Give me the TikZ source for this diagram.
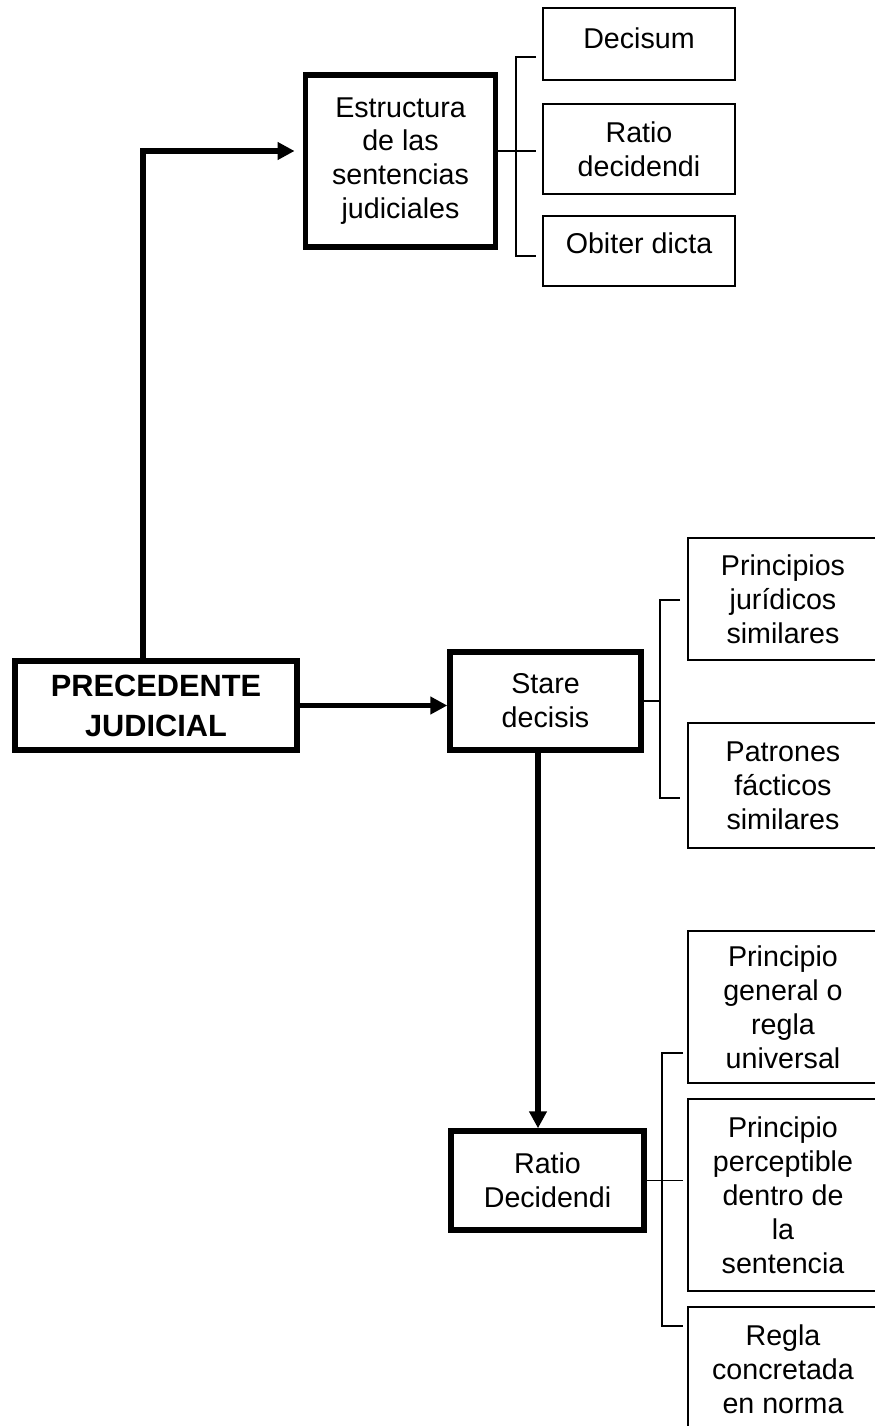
\documentclass[tikz,border=0pt]{standalone}
\usepackage{fontspec}
\setmainfont{Liberation Sans}
\usepackage{tikz}
\usetikzlibrary{arrows.meta}
\tikzset{
  main/.style  ={draw, line width=3.1pt, align=center, inner sep=2pt,
                 font=\fontsize{16.3}{19.3}\selectfont},
  leaf/.style  ={draw, line width=1pt, align=center, inner sep=2pt,
                 font=\fontsize{16.3}{19.3}\selectfont},
  link/.style  ={line width=3.1pt, -{Triangle[length=3.4mm, width=3.4mm]}},
  brace/.style ={line width=0.8pt},
}

\begin{document}
\begin{tikzpicture}[x=0.02cm, y=-0.02cm]
  \useasboundingbox (0,0) rectangle (875,1426);

  % main column
  \node[main, minimum width=5.64cm, minimum height=1.78cm,
        font=\bfseries\fontsize{17.5}{22.8}\selectfont] (prec) at (156,705.5) {PRECEDENTE\\JUDICIAL};
  \node[main, minimum width=3.81cm, minimum height=3.44cm] (estr)   at (400.5,161)   {Estructura\\de las\\sentencias\\judiciales};
  \node[main, minimum width=3.82cm, minimum height=1.96cm] (stare)  at (545.5,701)   {Stare\\decisis};
  \node[main, minimum width=3.86cm, minimum height=1.98cm] (ratioD) at (547.5,1180.5){Ratio\\Decidendi};

  % parts of the ruling
  \node[leaf, minimum width=3.84cm, minimum height=1.44cm, text depth=7pt] (decisum) at (639,44)  {Decisum};
  \node[leaf, minimum width=3.84cm, minimum height=1.8cm]                  (ratio)   at (639,149) {Ratio\\decidendi};
  \node[leaf, minimum width=3.84cm, minimum height=1.4cm, text depth=9pt]  (obiter)  at (639,251) {Obiter dicta};

  % stare decisis
  \node[leaf, minimum width=3.8cm, minimum height=2.44cm] (princ)  at (783,599)   {Principios\\jurídicos\\similares};
  \node[leaf, minimum width=3.8cm, minimum height=2.5cm]  (patron) at (783,785.5) {Patrones\\fácticos\\similares};

  % ratio decidendi
  \node[leaf, minimum width=3.8cm, minimum height=3.04cm] (general) at (783,1007)   {Principio\\general o\\regla\\universal};
  \node[leaf, minimum width=3.8cm, minimum height=3.84cm] (percep)  at (783,1195)   {Principio\\perceptible\\dentro de\\la\\sentencia};
  \node[leaf, minimum width=3.8cm, minimum height=2.5cm]  (regla)   at (783,1369.5) {Regla\\concretada\\en norma};

  % arrows
  \coordinate (elbow) at (143,151);
  \coordinate (drop)  at (538,0);
  \draw[link, shorten >=1.6mm] (prec.north -| elbow) -- (elbow) -- (elbow -| estr.west);
  \draw[link] (prec.east) -- (prec.east -| stare.west);
  \draw[link] (stare.south -| drop) -- (ratioD.north -| drop);

  % brackets
  \coordinate (t1) at (536,57);   \coordinate (u1) at (536,256);
  \draw[brace] (t1) -- ++(-20,0) |- (u1);
  \draw[brace] (estr.east |- elbow) -- (elbow -| t1);

  \coordinate (t2) at (680,600);  \coordinate (u2) at (680,798);
  \draw[brace] (t2) -- ++(-20,0) coordinate (spine2) |- (u2);
  \draw[brace] (stare.east) -- (stare.east -| spine2);

  \coordinate (t3) at (683,1053); \coordinate (u3) at (683,1326);
  \draw[brace] (t3) -- ++(-21,0) |- (u3);
  \draw[brace] (ratioD.east) -- (ratioD.east -| t3);
\end{tikzpicture}
\end{document}
